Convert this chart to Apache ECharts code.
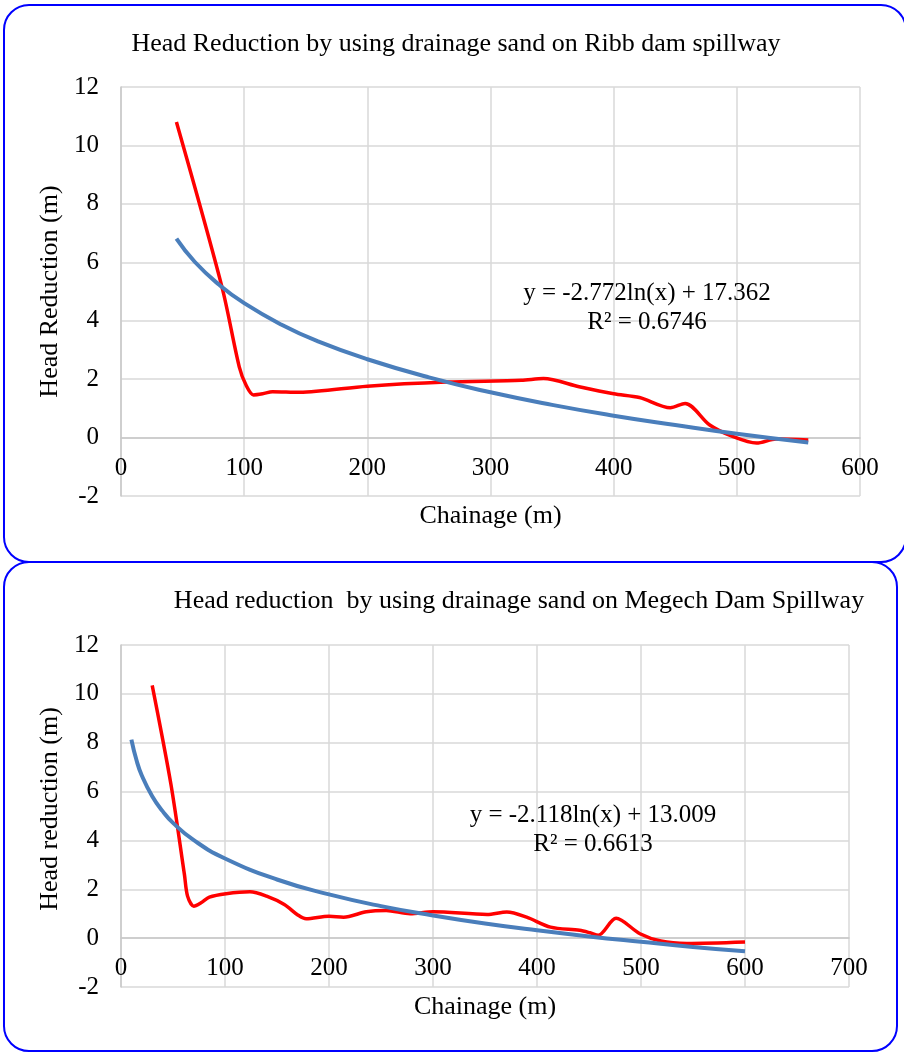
<!DOCTYPE html>
<html>
<head>
<meta charset="utf-8">
<script src="https://cdn.jsdelivr.net/npm/echarts@6/dist/echarts.min.js"></script>
<style>
html,body{margin:0;padding:0;background:#fff;}
#c{width:904px;height:1052px;}
</style>
</head>
<body>
<div id="c"></div>
<script>
// ---- Ribb dam spillway (top chart) ----
const ribbChainage = [45, 82, 96, 101.6, 107.6, 115, 123, 145, 200, 264, 325, 343, 372, 400, 421, 446, 458, 478, 497, 516, 532, 558];
const ribbHead     = [10.8, 5.15, 2.42, 1.79, 1.46, 1.5, 1.57, 1.55, 1.76, 1.9, 1.96, 2.02, 1.74, 1.5, 1.37, 1.02, 1.17, 0.43, 0.03, -0.19, -0.05, -0.08];
const ribbTrendX   = [45, 60, 80, 100, 130, 160, 200, 250, 300, 350, 400, 450, 500, 558];
const ribbTrendY   = [6.81, 6.01, 5.22, 4.60, 3.87, 3.29, 2.68, 2.06, 1.55, 1.12, 0.75, 0.43, 0.13, -0.17];

// ---- Megech dam spillway (bottom chart) ----
const megechChainage = [30, 48, 61, 64, 70, 77, 85, 101, 124, 140, 157, 170, 178, 200, 214, 236, 255, 278, 300, 352, 371, 390, 413, 441, 451, 459, 476, 499, 519, 544, 600];
const megechHead     = [10.35, 6.3, 2.6, 1.72, 1.31, 1.45, 1.68, 1.82, 1.9, 1.72, 1.38, 0.95, 0.79, 0.9, 0.86, 1.08, 1.13, 1.0, 1.08, 0.97, 1.07, 0.86, 0.45, 0.32, 0.22, 0.12, 0.81, 0.18, -0.12, -0.22, -0.16];
const megechTrendX   = [10, 15, 20, 30, 40, 50, 70, 100, 150, 200, 250, 300, 350, 400, 450, 500, 550, 600];
const megechTrendY   = [8.13, 7.27, 6.66, 5.81, 5.20, 4.72, 4.01, 3.26, 2.40, 1.79, 1.31, 0.93, 0.60, 0.32, 0.07, -0.15, -0.36, -0.54];

// ---- texts ----
const titles = [
  'Head Reduction by using drainage sand on Ribb dam spillway',
  'Head reduction  by using drainage sand on Megech Dam Spillway'
];
const yNames = ['Head Reduction (m)', 'Head reduction (m)'];
const xName = 'Chainage (m)';
const equations = [
  ['y = -2.772ln(x) + 17.362', 'R² = 0.6746'],
  ['y = -2.118ln(x) + 13.009', 'R² = 0.6613']
];
const xMax = [600, 700];
const yMin = -2, yMax = 12, yStep = 2, xStep = 100;

const FONT = "'Liberation Serif','Times New Roman',serif";
const RED = '#ff0000', BLUE = '#4a7ebb', GRID = '#d9d9d9', AXIS = '#c8c8c8';

// grid layout (pixels)
const grids = [
  {left:121, right:44, top:87, bottom:556},
  {left:121, right:55, top:645, bottom:65}
];
const H = 1052;

function zip(xs, ys){ return xs.map((x,i)=>[x, ys[i]]); }

const chart = echarts.init(document.getElementById('c'), null, {renderer:'canvas'});

function xAxisDef(i, gap){
  const gh = H - grids[i].top - grids[i].bottom;
  const zeroOffset = -gh * (0 - yMin) / (yMax - yMin); // move axis up to y = 0
  return {
    type:'value', gridIndex:i, min:0, max:xMax[i], interval:xStep,
    offset: zeroOffset,
    name:xName, nameLocation:'middle', nameGap:gap,
    nameTextStyle:{fontFamily:FONT, fontSize:26, color:'#000'},
    axisLine:{show:true, onZero:false, lineStyle:{color:AXIS, width:1.5}},
    axisTick:{show:false},
    axisLabel:{fontFamily:FONT, fontSize:25, color:'#000', margin:18},
    splitLine:{show:true, lineStyle:{color:GRID, width:1.5}}
  };
}
function yAxisDef(i, pad){
  return {
    type:'value', gridIndex:i, min:yMin, max:yMax, interval:yStep,
    name:yNames[i], nameLocation:'middle', nameGap:56, nameRotate:90,
    nameTextStyle:{fontFamily:FONT, fontSize:26, color:'#000', padding:pad},
    axisLine:{show:true, onZero:false, lineStyle:{color:AXIS, width:1.5}},
    axisTick:{show:false},
    axisLabel:{fontFamily:FONT, fontSize:25, color:'#000', margin:22},
    splitLine:{show:true, lineStyle:{color:GRID, width:1.5}}
  };
}

const option = {
  animation:false,
  backgroundColor:'#fff',
  title:[
    {text:titles[0], left:451, top:26, textAlign:'center',
     textStyle:{fontFamily:FONT, fontSize:26, fontWeight:'normal', color:'#000'}},
    {text:titles[1], left:514, top:583, textAlign:'center',
     textStyle:{fontFamily:FONT, fontSize:26, fontWeight:'normal', color:'#000'}}
  ],
  grid:grids,
  xAxis:[xAxisDef(0, 66), xAxisDef(1, 56)],
  yAxis:[yAxisDef(0, [0,0,0,0]), yAxisDef(1, [0,0,0,14])],
  series:[
    {type:'line', xAxisIndex:0, yAxisIndex:0, data:zip(ribbChainage, ribbHead),
     smooth:0.3, showSymbol:false, lineStyle:{color:RED, width:3.5}, z:2},
    {type:'line', xAxisIndex:0, yAxisIndex:0, data:zip(ribbTrendX, ribbTrendY),
     smooth:true, showSymbol:false, lineStyle:{color:BLUE, width:4}, z:3},
    {type:'line', xAxisIndex:1, yAxisIndex:1, data:zip(megechChainage, megechHead),
     smooth:0.3, showSymbol:false, lineStyle:{color:RED, width:3.5}, z:2},
    {type:'line', xAxisIndex:1, yAxisIndex:1, data:zip(megechTrendX, megechTrendY),
     smooth:true, showSymbol:false, lineStyle:{color:BLUE, width:4}, z:3}
  ],
  graphic:[
    {type:'rect', shape:{x:4, y:5, width:902, height:557, r:25},
     style:{fill:null, stroke:'#0000ff', lineWidth:2}, z:100, silent:true},
    {type:'rect', shape:{x:4, y:562, width:893, height:489, r:25},
     style:{fill:null, stroke:'#0000ff', lineWidth:2}, z:100, silent:true},
    {type:'text', x:647, y:279, z:50,
     style:{text:equations[0].join('\n'), font:'25px ' + FONT, fontFamily:FONT, fontSize:25, lineHeight:29,
            fill:'#000', align:'center', verticalAlign:'top'}},
    {type:'text', x:593, y:801, z:50,
     style:{text:equations[1].join('\n'), font:'25px ' + FONT, fontFamily:FONT, fontSize:25, lineHeight:29,
            fill:'#000', align:'center', verticalAlign:'top'}}
  ]
};
chart.setOption(option);
</script>
</body>
</html>
